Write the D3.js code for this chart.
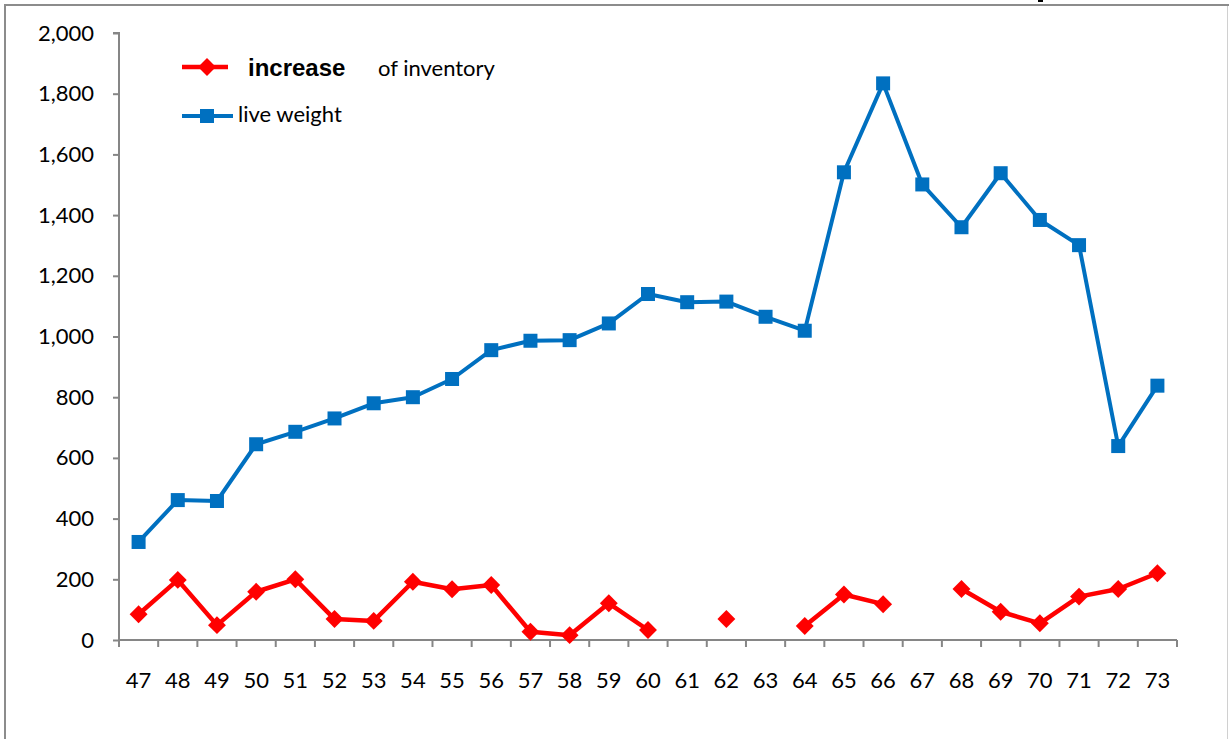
<!DOCTYPE html>
<html>
<head>
<meta charset="utf-8">
<script src="https://cdn.jsdelivr.net/npm/d3@7"></script>
<style>
  body { margin: 0; background: #fff; }
  svg { display: block; }
</style>
</head>
<body>
<svg id="chart" width="1229" height="739"></svg>
<script>
const years = ['47','48','49','50','51','52','53','54','55','56','57','58','59','60','61','62','63','64','65','66','67','68','69','70','71','72','73'];
const liveWeight = [323, 461, 458, 645, 686, 730, 780, 800, 860, 955, 986, 988, 1043, 1140, 1113, 1115, 1065, 1019, 1541, 1834, 1501, 1360, 1538, 1384, 1301, 639, 838];
const inventoryIncrease = [85, 198, 49, 159, 200, 69, 63, 192, 167, 181, 27, 16, 121, 33, null, 69, null, 46, 150, 118, null, 168, 93, 55, 143, 168, 220];
const yTicks = [0, 200, 400, 600, 800, 1000, 1200, 1400, 1600, 1800, 2000];

const svg = d3.select('#chart');
const font = 'Lato, "Open Sans", sans-serif';
const axisGray = '#868686';
const red = '#ff0000';
const blue = '#0070c0';

// frame
svg.append('line').attr('x1', 5).attr('x2', 1229).attr('y1', 5).attr('y2', 5)
  .attr('stroke', '#8c8c8c').attr('stroke-width', 2);
svg.append('line').attr('x1', 5).attr('x2', 5).attr('y1', 4).attr('y2', 739)
  .attr('stroke', '#8c8c8c').attr('stroke-width', 2);
svg.append('line').attr('x1', 1227.5).attr('x2', 1227.5).attr('y1', 6).attr('y2', 739)
  .attr('stroke', '#d0d0d0').attr('stroke-width', 1);
// tiny cut-off fragment of something above the frame
svg.append('rect').attr('x', 1038).attr('y', 0).attr('width', 5).attr('height', 2).attr('fill', '#000');

const x = d3.scaleBand().domain(years).range([119, 1177]).padding(0);
const y = d3.scaleLinear().domain([0, 2000]).range([640, 33]);

// y axis
const yAxis = svg.append('g').attr('transform', 'translate(119,0)')
  .call(d3.axisLeft(y).tickValues(yTicks).tickSize(6).tickPadding(19).tickFormat(d3.format(',')));
yAxis.select('.domain').attr('stroke', axisGray).attr('stroke-width', 2).attr('d', `M-6,${y(2000)}H0V${y(0)}`);
yAxis.selectAll('.tick line').attr('stroke', axisGray).attr('stroke-width', 2);
yAxis.selectAll('text').attr('font-family', font).attr('font-size', 22).attr('fill', '#000');

// x axis
const xAxis = svg.append('g').attr('transform', 'translate(0,640)')
  .call(d3.axisBottom(x).tickSize(0).tickPadding(32));
xAxis.select('.domain').attr('stroke', axisGray).attr('stroke-width', 2).attr('d', `M${x.range()[0]},0H${x.range()[1]}`);
xAxis.selectAll('text').attr('font-family', font).attr('font-size', 22).attr('fill', '#000');
const bounds = years.map(d => x(d)).concat([x.range()[1]]);
svg.append('g').selectAll('line').data(bounds).enter().append('line')
  .attr('x1', d => d).attr('x2', d => d).attr('y1', 640).attr('y2', 647)
  .attr('stroke', axisGray).attr('stroke-width', 2);

const cx = d => x(d) + x.bandwidth() / 2;

// live weight
const blueLine = d3.line().x((d, i) => cx(years[i])).y(d => y(d));
svg.append('path').datum(liveWeight).attr('d', blueLine)
  .attr('fill', 'none').attr('stroke', blue).attr('stroke-width', 4).attr('stroke-linejoin', 'round');
svg.append('g').selectAll('rect').data(liveWeight).enter().append('rect')
  .attr('x', (d, i) => cx(years[i]) - 7).attr('y', d => y(d) - 7)
  .attr('width', 14).attr('height', 14).attr('fill', blue);

// increase of inventory
const redLine = d3.line().defined(d => d != null).x((d, i) => cx(years[i])).y(d => y(d));
svg.append('path').datum(inventoryIncrease).attr('d', redLine)
  .attr('fill', 'none').attr('stroke', red).attr('stroke-width', 4.5).attr('stroke-linejoin', 'round');
const diamond = d3.symbol().type(d3.symbolSquare).size(160);
svg.append('g').selectAll('path').data(inventoryIncrease.map((v, i) => ({ v, i })).filter(d => d.v != null))
  .enter().append('path')
  .attr('d', diamond)
  .attr('transform', d => `translate(${cx(years[d.i])},${y(d.v)}) rotate(45)`)
  .attr('fill', red);

// legend
const lg = svg.append('g');
lg.append('line').attr('x1', 182).attr('x2', 228).attr('y1', 67).attr('y2', 67)
  .attr('stroke', red).attr('stroke-width', 4.5);
lg.append('path').attr('d', diamond).attr('transform', 'translate(207,67) rotate(45)').attr('fill', red);
lg.append('text').attr('x', 248).attr('y', 76).attr('font-family', '"Liberation Sans", Arial, sans-serif')
  .attr('font-weight', 'bold').attr('font-size', 24).attr('fill', '#000').text('increase');
lg.append('text').attr('x', 378).attr('y', 76).attr('font-family', font)
  .attr('font-size', 22).attr('fill', '#000').text('of inventory');
lg.append('line').attr('x1', 182).attr('x2', 233).attr('y1', 116).attr('y2', 116)
  .attr('stroke', blue).attr('stroke-width', 4);
lg.append('rect').attr('x', 200).attr('y', 109).attr('width', 14).attr('height', 14).attr('fill', blue);
lg.append('text').attr('x', 238).attr('y', 122).attr('font-family', font)
  .attr('font-size', 22).attr('fill', '#000').text('live weight');
</script>
</body>
</html>
